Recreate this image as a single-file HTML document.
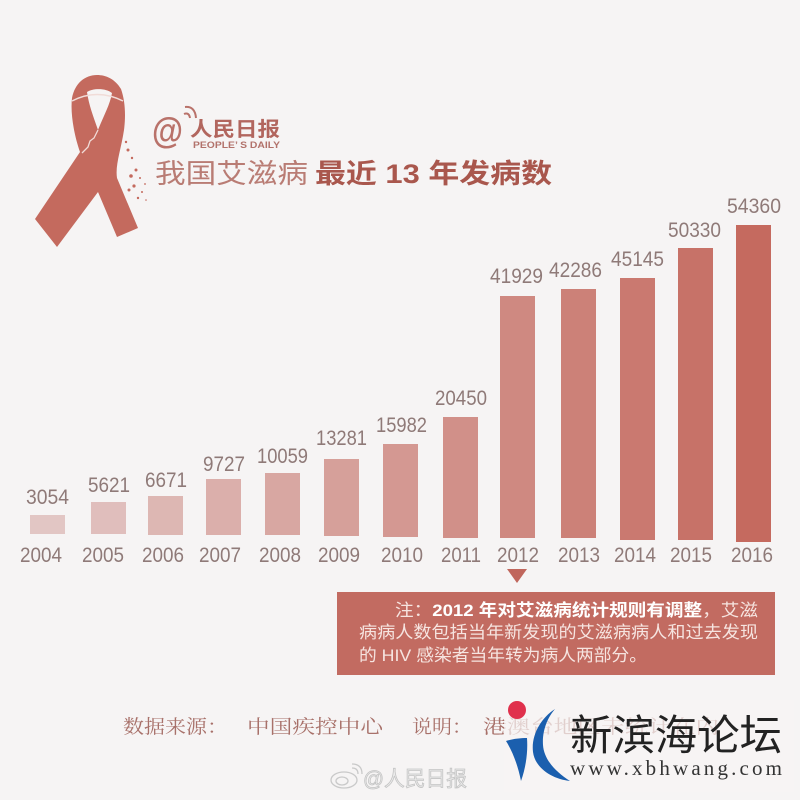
<!DOCTYPE html>
<html><head><meta charset="utf-8"><style>
html,body{margin:0;padding:0;background:#f6f4f4;}
svg{display:block;}
.v{font-family:"Liberation Sans",sans-serif;font-size:21px;fill:#8f7a78;text-anchor:start;}
</style></head><body>
<svg width="800" height="800" viewBox="0 0 800 800" xmlns="http://www.w3.org/2000/svg">
<rect width="800" height="800" fill="#f6f4f4"/>

<!-- Ribbon -->
<path d="M97,75 C85,75 75,83 72,98 C70,115 75,138 80,152 L35,219 L57,247 L98,192 L117,237 L138,228 L117,178 C115,165 121,150 124,130 C126,115 125,100 121,89 C115,79 106,75 97,75 Z" fill="#c46a5e"/>
<path d="M87,92 C93,88 106,88 112,93 C110,105 103,117 98,130 C94,118 89,106 87,92 Z" fill="#f6f4f4"/>
<path d="M72,101 Q97,88 123,101" stroke="#f1dcd8" stroke-width="1.5" fill="none"/>
<path d="M98,130 L94,138 L90,141 L88,147 L82,153" stroke="#f1dcd8" stroke-width="1.3" fill="none"/>
<g fill="#c46a5e">
<circle cx="128" cy="150" r="1.5"/><circle cx="132" cy="158" r="1.2"/><circle cx="136" cy="170" r="1.5"/>
<circle cx="140" cy="178" r="1"/><circle cx="134" cy="186" r="1.6"/><circle cx="142" cy="192" r="1"/>
<circle cx="138" cy="198" r="1.2"/><circle cx="126" cy="142" r="1.2"/><circle cx="145" cy="184" r="0.9"/>
<circle cx="131" cy="176" r="1.8"/><circle cx="129" cy="190" r="1.5"/><circle cx="146" cy="200" r="0.8"/>
</g>

<!-- People's Daily logo -->
<text x="152" y="143" font-family="Liberation Sans,sans-serif" font-weight="bold" font-size="36" fill="#b9726a" textLength="31" lengthAdjust="spacingAndGlyphs">@</text>
<path d="M184,114 Q189,112 190,118" stroke="#b9726a" stroke-width="2" fill="none"/>
<path d="M185,107 Q195,106 196,118" stroke="#b9726a" stroke-width="2" fill="none"/>
<text x="190" y="136" font-family="Liberation Sans,'Noto Sans CJK SC',sans-serif" font-weight="bold" font-size="20" fill="#b2665e" textLength="90" lengthAdjust="spacingAndGlyphs">人民日报</text>
<text x="193" y="148" font-family="Liberation Sans,sans-serif" font-weight="bold" font-size="9" fill="#b2726b" textLength="87" lengthAdjust="spacingAndGlyphs">PEOPLE’ S DAILY</text>

<!-- Title -->
<text x="155" y="183" font-family="Liberation Sans,'Noto Sans CJK SC',sans-serif" font-size="27" fill="#b97c74" textLength="153" lengthAdjust="spacingAndGlyphs">我国艾滋病</text>
<text x="315" y="183" font-family="Liberation Sans,'Noto Sans CJK SC',sans-serif" font-weight="bold" font-size="27" fill="#a9574d" textLength="237" lengthAdjust="spacingAndGlyphs">最近 13 年发病数</text>

<!-- Bars -->
<rect x="30" y="515" width="35" height="19" fill="#e2c6c4"/>
<rect x="91" y="502" width="35" height="32" fill="#e0bebc"/>
<rect x="148" y="496" width="35" height="39" fill="#ddb7b3"/>
<rect x="206" y="479" width="35" height="56" fill="#dbafab"/>
<rect x="265" y="473" width="35" height="62" fill="#d8a7a2"/>
<rect x="324" y="459" width="35" height="77" fill="#d6a09a"/>
<rect x="383" y="444" width="35" height="93" fill="#d49892"/>
<rect x="443" y="417" width="35" height="121" fill="#d19089"/>
<rect x="500" y="296" width="35" height="242" fill="#cf8981"/>
<rect x="561" y="289" width="35" height="249" fill="#cc8178"/>
<rect x="620" y="278" width="35" height="262" fill="#ca7970"/>
<rect x="678" y="248" width="35" height="292" fill="#c77268"/>
<rect x="736" y="225" width="35" height="317" fill="#c56a5f"/>

<!-- Value labels -->
<g class="v">
<text x="26" y="504" textLength="43" lengthAdjust="spacingAndGlyphs">3054</text>
<text x="88" y="492" textLength="42" lengthAdjust="spacingAndGlyphs">5621</text>
<text x="145" y="487" textLength="42" lengthAdjust="spacingAndGlyphs">6671</text>
<text x="203" y="471" textLength="42" lengthAdjust="spacingAndGlyphs">9727</text>
<text x="257" y="463" textLength="51" lengthAdjust="spacingAndGlyphs">10059</text>
<text x="316" y="445" textLength="51" lengthAdjust="spacingAndGlyphs">13281</text>
<text x="376" y="432" textLength="51" lengthAdjust="spacingAndGlyphs">15982</text>
<text x="435" y="405" textLength="52" lengthAdjust="spacingAndGlyphs">20450</text>
<text x="490" y="283" textLength="53" lengthAdjust="spacingAndGlyphs">41929</text>
<text x="549" y="277" textLength="53" lengthAdjust="spacingAndGlyphs">42286</text>
<text x="611" y="266" textLength="53" lengthAdjust="spacingAndGlyphs">45145</text>
<text x="668" y="237" textLength="53" lengthAdjust="spacingAndGlyphs">50330</text>
<text x="727" y="213" textLength="54" lengthAdjust="spacingAndGlyphs">54360</text>
</g>

<!-- Year labels -->
<g class="v">
<text x="20" y="562" textLength="42" lengthAdjust="spacingAndGlyphs">2004</text>
<text x="82" y="562" textLength="42" lengthAdjust="spacingAndGlyphs">2005</text>
<text x="142" y="562" textLength="42" lengthAdjust="spacingAndGlyphs">2006</text>
<text x="199" y="562" textLength="42" lengthAdjust="spacingAndGlyphs">2007</text>
<text x="259" y="562" textLength="42" lengthAdjust="spacingAndGlyphs">2008</text>
<text x="318" y="562" textLength="42" lengthAdjust="spacingAndGlyphs">2009</text>
<text x="381" y="562" textLength="42" lengthAdjust="spacingAndGlyphs">2010</text>
<text x="441" y="562" textLength="40" lengthAdjust="spacingAndGlyphs">2011</text>
<text x="497" y="562" textLength="42" lengthAdjust="spacingAndGlyphs">2012</text>
<text x="558" y="562" textLength="42" lengthAdjust="spacingAndGlyphs">2013</text>
<text x="614" y="562" textLength="42" lengthAdjust="spacingAndGlyphs">2014</text>
<text x="670" y="562" textLength="42" lengthAdjust="spacingAndGlyphs">2015</text>
<text x="731" y="562" textLength="42" lengthAdjust="spacingAndGlyphs">2016</text>
</g>

<!-- Triangle marker -->
<polygon points="507,569 527,569 517,583" fill="#c0665c"/>

<!-- Note box -->
<rect x="337" y="592" width="438" height="83" fill="#c26b61"/>
<text x="395" y="616" font-family="Liberation Sans,'Noto Sans CJK SC',sans-serif" font-size="17" fill="#f6e4e0" textLength="363" lengthAdjust="spacingAndGlyphs">注：<tspan font-weight="bold" fill="#ffffff">2012 年对艾滋病统计规则有调整</tspan>，艾滋</text>
<text x="359" y="638" font-family="Liberation Sans,'Noto Sans CJK SC',sans-serif" font-size="17" fill="#f6e4e0" textLength="399" lengthAdjust="spacingAndGlyphs">病病人数包括当年新发现的艾滋病病人和过去发现</text>
<text x="359" y="661" font-family="Liberation Sans,'Noto Sans CJK SC',sans-serif" font-size="17" fill="#f6e4e0" textLength="288" lengthAdjust="spacingAndGlyphs">的 HIV 感染者当年转为病人两部分。</text>

<!-- Footer -->
<g font-family="'Liberation Serif','Noto Serif CJK SC',serif" font-size="19" fill="#a8716a">
<text x="123" y="733" textLength="105" lengthAdjust="spacingAndGlyphs">数据来源：</text>
<text x="247" y="733" textLength="136" lengthAdjust="spacingAndGlyphs">中国疾控中心</text>
<text x="412" y="733" textLength="60" lengthAdjust="spacingAndGlyphs">说明：</text>
<text x="483" y="733" textLength="236" lengthAdjust="spacingAndGlyphs">港澳台地区未统计在内</text>
</g>

<!-- Weibo watermark -->
<g fill="none" stroke="#c9c9c9" stroke-width="1.3">
<ellipse cx="344" cy="780" rx="13" ry="8"/>
<ellipse cx="342" cy="781" rx="6" ry="4"/>
<path d="M352,768 Q358,768 358,774"/>
<path d="M352,764 Q362,764 362,774"/>
</g>
<text x="363" y="786" font-family="Liberation Sans,'Noto Sans CJK SC',sans-serif" font-size="21" fill="#ececec" stroke="#c4c4c4" stroke-width="0.8" textLength="104" lengthAdjust="spacingAndGlyphs">@人民日报</text>

<!-- Xinbinhai watermark -->
<rect x="504" y="700" width="290" height="92" fill="#f6f4f4" opacity="0.72"/>
<circle cx="517" cy="710" r="9" fill="#e0304c"/>
<path d="M506,741 C512,739 520,738 527,738 C528,752 526,767 521,781 C518,766 513,752 506,741 Z" fill="#1b5fae"/>
<path d="M555,709 C541,718 531,735 533,752 C535,768 552,779 570,781 C556,772 544,760 543,745 C542,730 548,717 555,709 Z" fill="#1b5fae"/>
<text x="570" y="750" font-family="Liberation Sans,'Noto Sans CJK SC',sans-serif" font-size="42" fill="#222222" textLength="212" lengthAdjust="spacingAndGlyphs">新滨海论坛</text>
<text x="570" y="775" font-family="'Liberation Serif',serif" font-size="21" fill="#333333" textLength="212" lengthAdjust="spacing">www.xbhwang.com</text>
</svg>
</body></html>
